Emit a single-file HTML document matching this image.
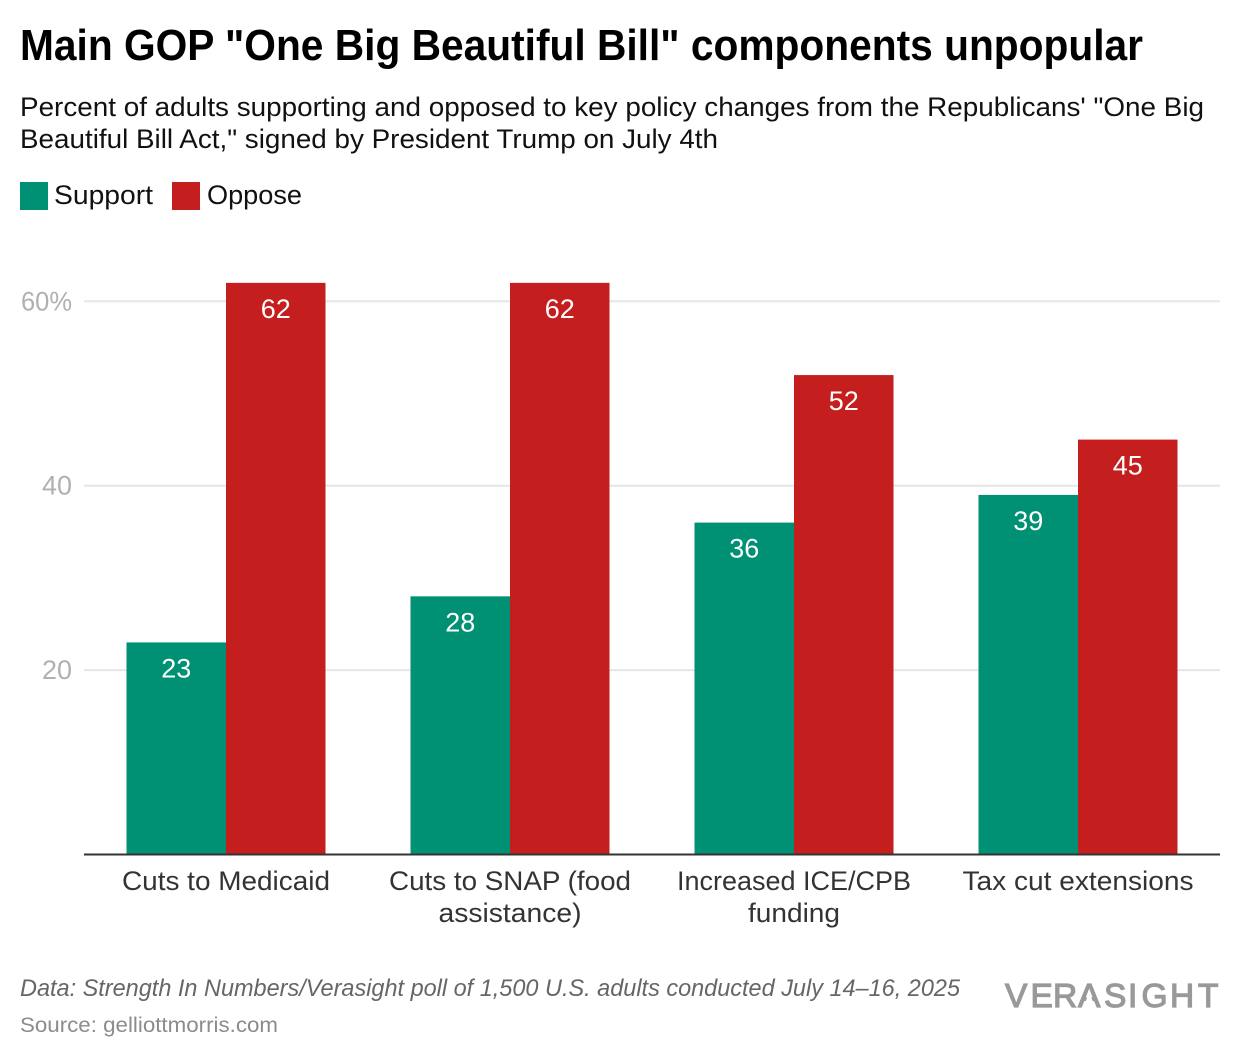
<!DOCTYPE html>
<html lang="en">
<head>
<meta charset="utf-8">
<title>Main GOP "One Big Beautiful Bill" components unpopular</title>
<style>
html,body{margin:0;padding:0;background:#fff;}
svg{display:block;font-family:"Liberation Sans",sans-serif;}
</style>
</head>
<body>
<svg id="chart" width="1240" height="1060" viewBox="0 0 1240 1060" xmlns="http://www.w3.org/2000/svg">
  <rect width="1240" height="1060" fill="#ffffff"/>
  <text x="20" y="60" font-size="44" font-weight="700" fill="#000" textLength="1123" lengthAdjust="spacingAndGlyphs">Main GOP "One Big Beautiful Bill" components unpopular</text>
  <text x="20" y="116" font-size="27" fill="#111" textLength="1184" lengthAdjust="spacingAndGlyphs">Percent of adults supporting and opposed to key policy changes from the Republicans' "One Big</text>
  <text x="20" y="148" font-size="27" fill="#111" textLength="698" lengthAdjust="spacingAndGlyphs">Beautiful Bill Act," signed by President Trump on July 4th</text>

  <rect x="20" y="182" width="28" height="28" fill="#009175"/>
  <text x="54" y="204" font-size="27" fill="#111" textLength="99" lengthAdjust="spacingAndGlyphs">Support</text>
  <rect x="172" y="182" width="28" height="28" fill="#c41f1e"/>
  <text x="207" y="204" font-size="27" fill="#111" textLength="95" lengthAdjust="spacingAndGlyphs">Oppose</text>

  <g id="grid"></g>
  <g id="bars"></g>
  <g id="values"></g>
  <line x1="84" x2="1220" y1="854.5" y2="854.5" stroke="#333333" stroke-width="2"/>
  <g id="xlabels"></g>

  <text x="20" y="996" font-size="24" font-style="italic" fill="#666666" textLength="940" lengthAdjust="spacingAndGlyphs">Data: Strength In Numbers/Verasight poll of 1,500 U.S. adults conducted July 14–16, 2025</text>
  <text x="20" y="1032" font-size="21" fill="#8c8c8c" textLength="258" lengthAdjust="spacingAndGlyphs">Source: gelliottmorris.com</text>
  <g>
    <text x="1005 1030.5 1053 1078 1104 1128 1141.5 1170 1198" y="1007" font-size="33.5" fill="#999999" stroke="#999999" stroke-width="1.2">VERASIGHT</text>
    <polygon points="1089.2,991 1083.4,1008.5 1095,1008.5" fill="#ffffff"/>
  </g>
</svg>
<script>
const categories = [["Cuts to Medicaid"], ["Cuts to SNAP (food", "assistance)"], ["Increased ICE/CPB", "funding"], ["Tax cut extensions"]];
const supportValues = [23, 28, 36, 39];
const opposeValues = [62, 62, 52, 45];
const yTicks = [20, 40, 60];
const yTickLabels = ["20", "40", "60%"];

const NS = "http://www.w3.org/2000/svg";
const plotLeft = 84, plotRight = 1220, baseY = 854.5, unitPx = 9.22, barW = 99.5;
const labelFit = { "Cuts to Medicaid": 208, "Cuts to SNAP (food": 242, "assistance)": 143, "Increased ICE/CPB": 234, "funding": 92, "Tax cut extensions": 231, "60%": 51 };
const yScale = function (v) { return baseY - v * unitPx; };
const groupCenter = function (i) { return plotLeft + (plotRight - plotLeft) / categories.length * (i + 0.5); };
const mk = function (parent, tag, attrs, text) {
  const el = document.createElementNS(NS, tag);
  for (const k in attrs) el.setAttribute(k, attrs[k]);
  if (text !== undefined) el.textContent = text;
  document.getElementById(parent).appendChild(el);
  return el;
};

yTicks.forEach(function (t, i) {
  const line = mk("grid", "line", { x1: 84, x2: 1220, y1: yScale(t), y2: yScale(t), stroke: "#e6e6e6", "stroke-width": 2 });
  
  
  const tickAttrs = { x: 72, y: yScale(t) + 9, "font-size": 27, fill: "#b0b0b0", "text-anchor": "end" };
  if (labelFit[yTickLabels[i]]) {
    tickAttrs.textLength = labelFit[yTickLabels[i]];
    tickAttrs.lengthAdjust = "spacingAndGlyphs";
  }
  const lab = mk("grid", "text", tickAttrs, yTickLabels[i]);
  
  
});

categories.forEach(function (lines, i) {
  const c = groupCenter(i);
  const s = supportValues[i], o = opposeValues[i];

  const sBar = mk("bars", "rect", { x: c - barW, y: yScale(s), width: barW, height: baseY - yScale(s), fill: "#009175" });
  
  
  const oBar = mk("bars", "rect", { x: c, y: yScale(o), width: barW, height: baseY - yScale(o), fill: "#c41f1e" });
  
  

  const sVal = mk("values", "text", { x: c - barW / 2, y: yScale(s) + 35, "font-size": 27, fill: "#fff", "text-anchor": "middle" }, s);
  
  
  const oVal = mk("values", "text", { x: c + barW / 2, y: yScale(o) + 35, "font-size": 27, fill: "#fff", "text-anchor": "middle" }, o);
  
  

  lines.forEach(function (txt, j) {
    const attrs = { x: c, y: 890 + j * 32, "font-size": 27, fill: "#333333", "text-anchor": "middle" };
    if (labelFit[txt]) {
      attrs.textLength = labelFit[txt];
      attrs.lengthAdjust = "spacingAndGlyphs";
    }
    const lab = mk("xlabels", "text", attrs, txt);
    
    
  });
});
</script>
</body>
</html>
